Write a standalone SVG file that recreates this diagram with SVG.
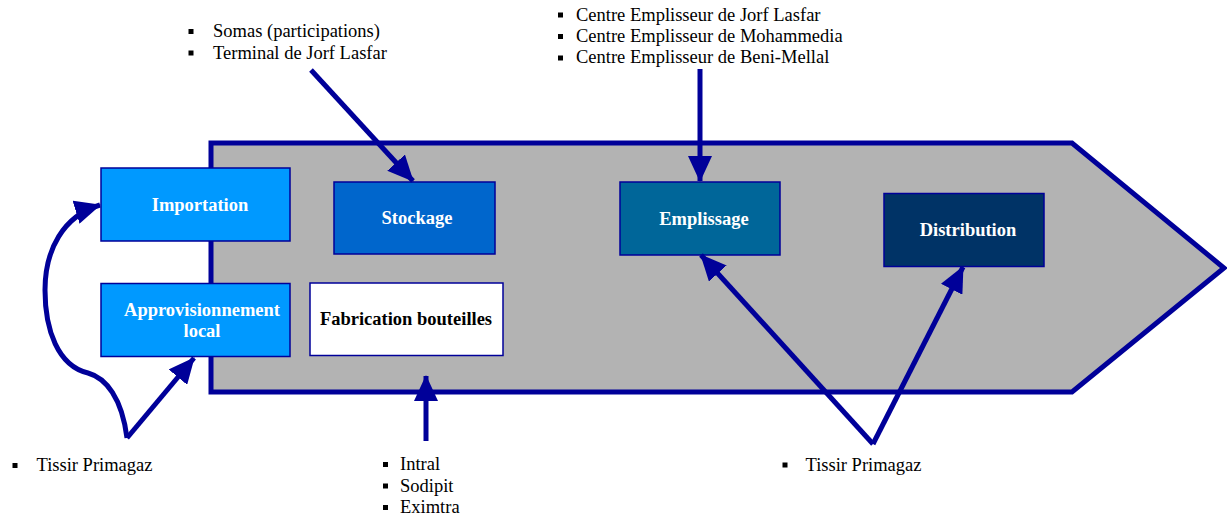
<svg xmlns="http://www.w3.org/2000/svg" width="1227" height="518" viewBox="0 0 1227 518">
<style>
.box{stroke:#000099;stroke-width:1.5}
.lbl{font-family:"Liberation Serif","Times New Roman",serif;font-size:18.5px;font-weight:bold;fill:#ffffff;text-anchor:middle}
.dark{fill:#000000}
.note{font-family:"Liberation Serif","Times New Roman",serif;font-size:18.5px;fill:#000000}
.bul{fill:#000000}
.con{fill:none;stroke:#000099;stroke-width:5}
</style>
<defs>
<marker id="ah" markerUnits="userSpaceOnUse" markerWidth="26" markerHeight="24" refX="25" refY="12" orient="auto">
<path d="M0,0 L26,12 L0,24 Z" fill="#000099"/>
</marker>
</defs>
<rect width="1227" height="518" fill="#ffffff"/>
<g id="chain">
<polygon points="211,143 1072,143 1224,268 1072,392 211,392" fill="#b3b3b3" stroke="#000099" stroke-width="5" stroke-linejoin="miter"/>
</g>
<g id="importation">
<rect class="box" x="101" y="168" width="189" height="73" fill="#0099ff"/>
<text class="lbl" x="200" y="211">Importation</text>
</g>
<g id="approvisionnement">
<rect class="box" x="101" y="283.5" width="189" height="73" fill="#0099ff"/>
<text class="lbl" x="202" y="316">Approvisionnement</text>
<text class="lbl" x="202" y="337">local</text>
</g>
<g id="stockage">
<rect class="box" x="334" y="182" width="161" height="72" fill="#0066cc"/>
<text class="lbl" x="417" y="223.5">Stockage</text>
</g>
<g id="fabrication">
<rect class="box" x="310" y="283" width="193" height="72.5" fill="#ffffff"/>
<text class="lbl dark" x="406" y="324.5">Fabrication bouteilles</text>
</g>
<g id="emplissage">
<rect class="box" x="620" y="182" width="160" height="73" fill="#006699"/>
<text class="lbl" x="704" y="225">Emplissage</text>
</g>
<g id="distribution">
<rect class="box" x="884" y="193.5" width="160" height="73" fill="#003366"/>
<text class="lbl" x="968" y="236">Distribution</text>
</g>
<g id="connectors">
<line class="con" x1="311" y1="70" x2="413" y2="181" marker-end="url(#ah)"/>
<line class="con" x1="700" y1="69" x2="700" y2="181" marker-end="url(#ah)"/>
<line class="con" x1="426" y1="441" x2="426" y2="376" marker-end="url(#ah)"/>
<line class="con" x1="873" y1="444" x2="701" y2="255" marker-end="url(#ah)"/>
<line class="con" x1="873" y1="444" x2="963" y2="267" marker-end="url(#ah)"/>
<line class="con" x1="127" y1="438" x2="194" y2="358" marker-end="url(#ah)"/>
<path class="con" d="M127,438 C122,398 106,378 88,373 C58,366 45,330 45,290 C45,250 63,216 100,205" marker-end="url(#ah)"/>
</g>
<g id="note-stockage">
<rect class="bul" x="188.5" y="29" width="5" height="5"/>
<text class="note" x="213" y="37">Somas (participations)</text>
<rect class="bul" x="188.5" y="50.5" width="5" height="5"/>
<text class="note" x="213" y="58.5">Terminal de Jorf Lasfar</text>
</g>
<g id="note-emplissage">
<rect class="bul" x="558" y="12.5" width="5" height="5"/>
<text class="note" x="576" y="20.7">Centre Emplisseur de Jorf Lasfar</text>
<rect class="bul" x="558" y="34" width="5" height="5"/>
<text class="note" x="576" y="42">Centre Emplisseur de Mohammedia</text>
<rect class="bul" x="558" y="55.5" width="5" height="5"/>
<text class="note" x="576" y="63.3">Centre Emplisseur de Beni-Mellal</text>
</g>
<g id="note-left">
<rect class="bul" x="12.5" y="463" width="5" height="5"/>
<text class="note" x="36.5" y="471">Tissir Primagaz</text>
</g>
<g id="note-fabrication">
<rect class="bul" x="383" y="462" width="5" height="5"/>
<text class="note" x="400" y="470">Intral</text>
<rect class="bul" x="383" y="483.5" width="5" height="5"/>
<text class="note" x="400" y="491.7">Sodipit</text>
<rect class="bul" x="383" y="505" width="5" height="5"/>
<text class="note" x="400" y="513.3">Eximtra</text>
</g>
<g id="note-right">
<rect class="bul" x="782.5" y="462.5" width="5" height="5"/>
<text class="note" x="805.5" y="470.7">Tissir Primagaz</text>
</g>
</svg>
